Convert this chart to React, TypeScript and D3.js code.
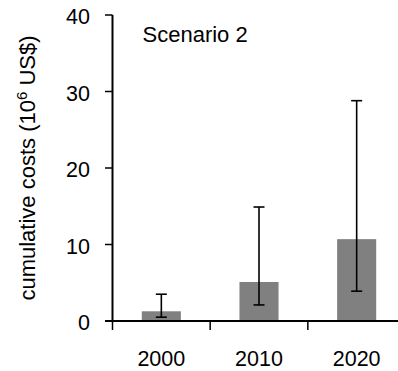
import React from "react";
import * as d3 from "d3";

const categories = ["2000", "2010", "2020"];
const values = [1.27, 5.1, 10.7];
const errLow = [0.5, 2.1, 3.9];
const errHigh = [3.5, 14.9, 28.8];
const yTicks = [0, 10, 20, 30, 40];

export default function App() {
  const W = 398, H = 371;
  const x = d3.scaleBand<string>().domain(categories).range([112.5, 405.5]).padding(0);
  const y = d3.scaleLinear().domain([0, 40]).range([321, 15]);
  const bw = x.bandwidth() * 0.4;
  const font = "Liberation Sans, Arial, Helvetica, sans-serif";
  return (
    <svg width={W} height={H} style={{ position: "absolute", left: 0, top: 0 }} fontFamily={font}>
      <rect width={W} height={H} fill="#fff" />
      {categories.map((c, i) => {
        const cx = x(c)! + x.bandwidth() / 2;
        return (
          <g key={c}>
            <rect x={cx - bw / 2} y={y(values[i])} width={bw} height={y(0) - y(values[i])} fill="#808080" />
            <line x1={cx} x2={cx} y1={y(errLow[i])} y2={y(errHigh[i])} stroke="#000" strokeWidth={1.6} />
            <line x1={cx - 5.5} x2={cx + 5.5} y1={y(errLow[i])} y2={y(errLow[i])} stroke="#000" strokeWidth={1.6} />
            <line x1={cx - 5.5} x2={cx + 5.5} y1={y(errHigh[i])} y2={y(errHigh[i])} stroke="#000" strokeWidth={1.6} />
            <text x={cx} y={366} textAnchor="middle" fontSize={21.5} fill="#000">{c}</text>
          </g>
        );
      })}
      {/* y axis */}
      <line x1={112.5} x2={112.5} y1={y(40)} y2={y(0)} stroke="#000" strokeWidth={2} />
      {yTicks.map((t) => (
        <g key={t}>
          <line x1={105} x2={112.5} y1={y(t)} y2={y(t)} stroke="#000" strokeWidth={1.5} />
          <text x={90} y={y(t) + 3.5} textAnchor="end" dominantBaseline="middle" fontSize={21.5} fill="#000">{t}</text>
        </g>
      ))}
      {/* x axis */}
      <line x1={105} x2={W} y1={y(0)} y2={y(0)} stroke="#000" strokeWidth={2} />
      {categories.map((c) => (
        <line key={c} x1={x(c)!} x2={x(c)!} y1={y(0)} y2={y(0) + 9} stroke="#000" strokeWidth={1.5} />
      ))}
      <text x={142.5} y={41.5} fontSize={22} fill="#000">Scenario 2</text>
      <text transform={`translate(35,168) rotate(-90)`} textAnchor="middle" fontSize={22} fill="#000">
        cumulative costs (10<tspan dy={-8} fontSize={15}>6</tspan><tspan dy={8}> US$)</tspan>
      </text>
    </svg>
  );
}
